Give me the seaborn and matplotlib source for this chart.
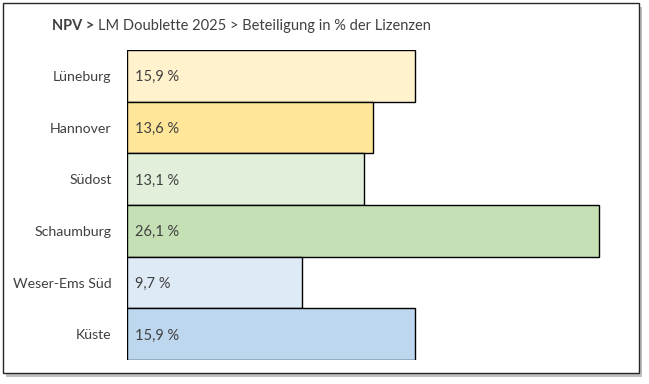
import matplotlib
matplotlib.use("Agg")
import matplotlib.pyplot as plt
import seaborn as sns
import pandas as pd
from matplotlib.patches import Rectangle

categories = ["Lüneburg", "Hannover", "Südost", "Schaumburg", "Weser-Ems Süd", "Küste"]
values = [15.9, 13.6, 13.1, 26.1, 9.7, 15.9]
labels = ["15,9 %", "13,6 %", "13,1 %", "26,1 %", "9,7 %", "15,9 %"]
colors = ["#FFF2CC", "#FFE699", "#E2EFDA", "#C5E0B4", "#DEEBF7", "#BDD7EE"]

sns.set_theme(style="white")
plt.rcParams['font.family'] = ['Lato', 'DejaVu Sans']

W, H = 649, 384
fig = plt.figure(figsize=(W/100, H/100), dpi=100)

# outer frame with shadow
fig.patches.append(Rectangle((6/W, 1-377/H), 636/W, 370/H, transform=fig.transFigure,
                             facecolor="#BFBFBF", edgecolor="none", zorder=-2))
fig.patches.append(Rectangle((3/W, 1-373/H), 636/W, 370/H, transform=fig.transFigure,
                             facecolor="white", edgecolor="#262626", linewidth=1.0, zorder=-1))

ax = fig.add_axes([127/W, 1-360/H, (620-127)/W, (360-50)/H])
ax.set_facecolor("none")
df = pd.DataFrame({"cat": categories, "val": values})
sns.barplot(data=df, x="val", y="cat", hue="cat", palette=colors, orient="h",
            saturation=1, width=1.0, edgecolor="black", linewidth=1.0, legend=False, ax=ax)
ax.set_xlim(0, (620-127)/((599-127)/26.1))
ax.set_ylim(5.5, -0.5)
for i, lab in enumerate(labels):
    ax.text(0.45, i + 0.03, lab, va="center", ha="left", fontsize=10.5, color="#404040")
for s in ax.spines.values():
    s.set_visible(False)
ax.set_xticks([])
ax.set_xlabel("")
ax.set_ylabel("")
ax.tick_params(axis="y", length=0, pad=11, labelsize=10.2, labelcolor="#404040")

t1 = fig.text(52/W, 1-26/H, "NPV >", fontsize=10.5, fontweight="bold", color="#404040",
              va="center", ha="left")
fig.canvas.draw()
bb = t1.get_window_extent()
fig.text((bb.x1 + 4)/W, 1-26/H, "LM Doublette 2025 > Beteiligung in % der Lizenzen",
         fontsize=10.5, color="#404040", va="center", ha="left")

fig.savefig("out.png", dpi=100)
